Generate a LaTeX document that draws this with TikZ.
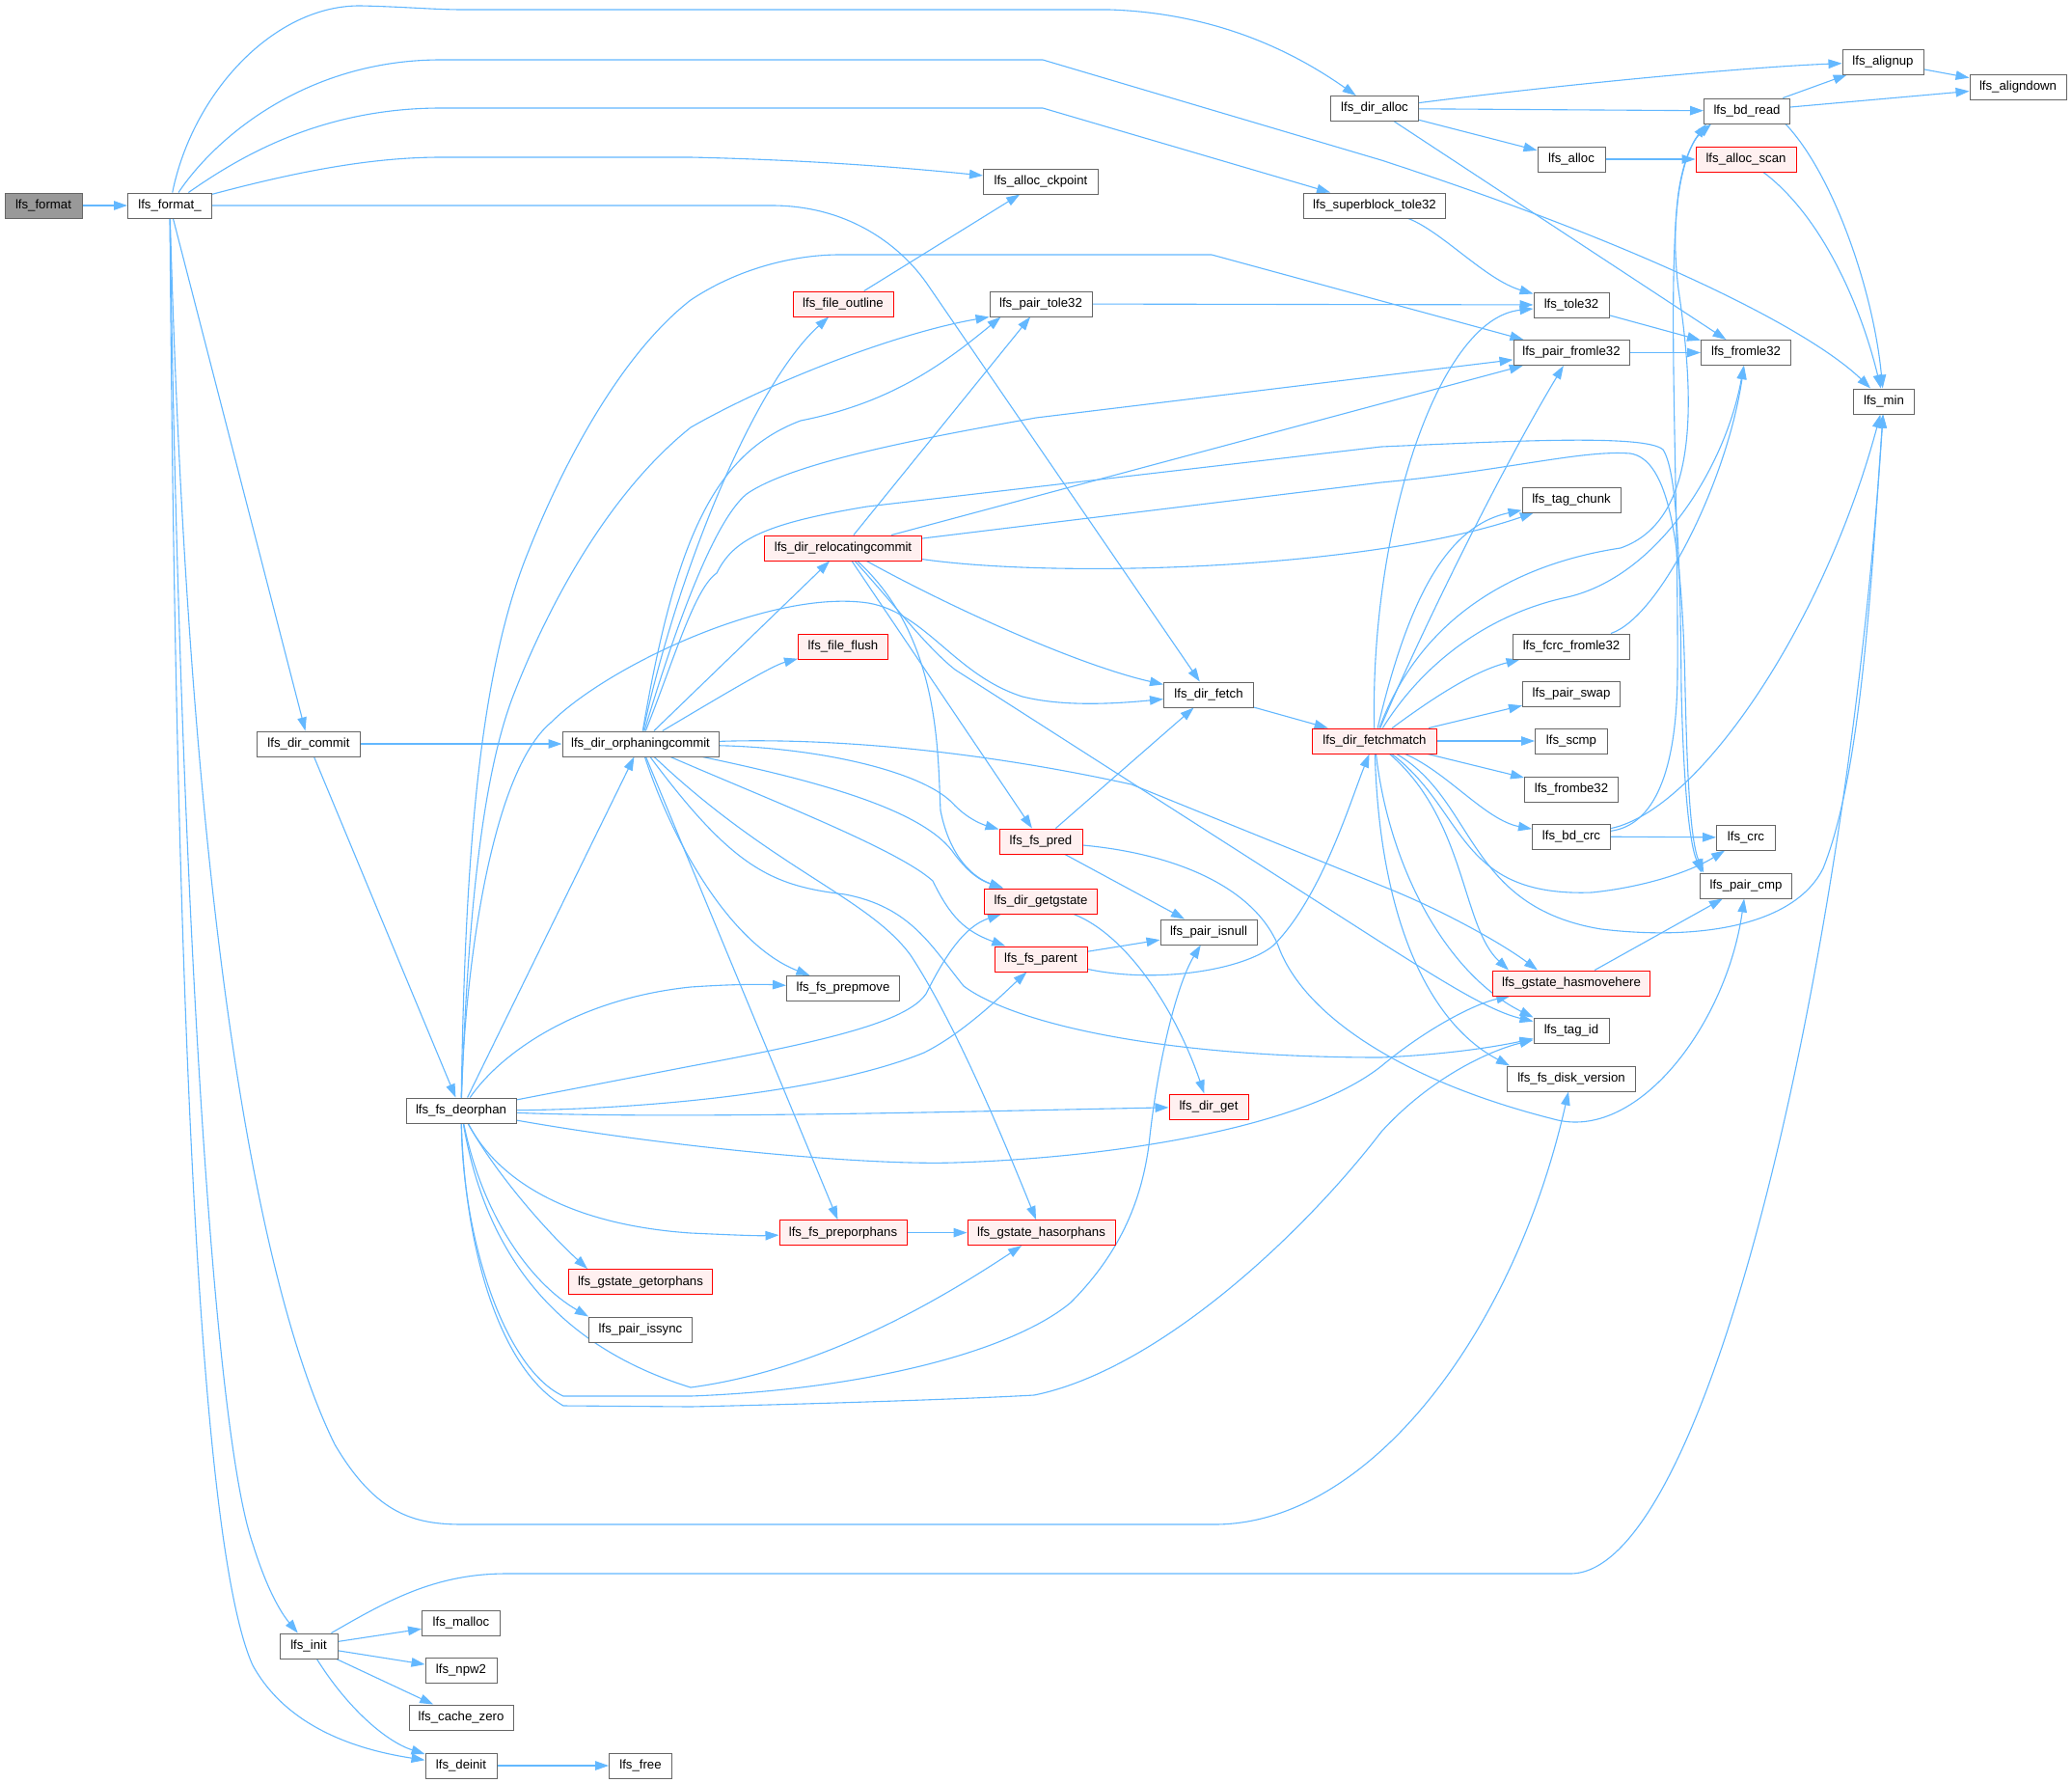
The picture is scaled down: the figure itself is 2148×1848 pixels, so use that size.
\documentclass[tikz,border=0pt]{standalone}
\usepackage{fontspec}
\setmainfont{Liberation Sans}
\usetikzlibrary{arrows.meta}
\pgfdeclarelayer{background}
\pgfsetlayers{background,main}
\definecolor{edgec}{HTML}{63B8FF}
\definecolor{bordg}{HTML}{666666}
\definecolor{redfill}{HTML}{FFF0F0}
\definecolor{rootfill}{HTML}{999999}
\begin{document}
\begin{tikzpicture}[x=1pt,y=-1pt,
  fn/.style={draw=bordg, fill=white, line width=1pt, minimum height=26pt, inner sep=0pt, font=\fontsize{13.2pt}{15pt}\selectfont},
  rn/.style={fn, draw=red, fill=redfill},
  root/.style={fn, fill=rootfill},
  ed/.style={draw=edgec, line width=1.1pt, -{Triangle[length=14pt,width=9.5pt]}}]
\useasboundingbox (0,0) rectangle (2148,1848);
% nodes
\node[root, minimum width=80pt] (fmt) at (45,213) {lfs\_format};
\node[fn, minimum width=87pt] (fmtu) at (176,213) {lfs\_format\_};
\node[fn, minimum width=107pt] (dcommit) at (320,771) {lfs\_dir\_commit};
\node[fn, minimum width=60pt] (init) at (320,1706) {lfs\_init};
\node[fn, minimum width=114pt] (deo) at (478,1151) {lfs\_fs\_deorphan};
\node[fn, minimum width=81pt] (malloc) at (478,1682) {lfs\_malloc};
\node[fn, minimum width=74pt] (npw2) at (478,1731) {lfs\_npw2};
\node[fn, minimum width=108pt] (czero) at (478,1780) {lfs\_cache\_zero};
\node[fn, minimum width=74pt] (deinit) at (478,1830) {lfs\_deinit};
\node[fn, minimum width=162pt] (orph) at (664,771) {lfs\_dir\_orphaningcommit};
\node[rn, minimum width=149pt] (getorph) at (664,1328.6) {lfs\_gstate\_getorphans};
\node[fn, minimum width=107pt] (issync) at (664,1378) {lfs\_pair\_issync};
\node[fn, minimum width=65pt] (free) at (664,1830) {lfs\_free};
\node[rn, minimum width=104pt] (outline) at (874,315) {lfs\_file\_outline};
\node[rn, minimum width=163pt] (reloc) at (874,568) {lfs\_dir\_relocatingcommit};
\node[rn, minimum width=93pt] (flush) at (874,670) {lfs\_file\_flush};
\node[fn, minimum width=117pt] (prepmove) at (874,1024.5) {lfs\_fs\_prepmove};
\node[rn, minimum width=132pt] (prepo) at (874,1277.6) {lfs\_fs\_preporphans};
\node[fn, minimum width=119pt] (ckpt) at (1079,188) {lfs\_alloc\_ckpoint};
\node[fn, minimum width=106pt] (ptole) at (1079,315) {lfs\_pair\_tole32};
\node[rn, minimum width=86pt] (pred) at (1079,872) {lfs\_fs\_pred};
\node[rn, minimum width=117pt] (getg) at (1079,934) {lfs\_dir\_getgstate};
\node[rn, minimum width=96pt] (parent) at (1079,994) {lfs\_fs\_parent};
\node[rn, minimum width=153pt] (hasorph) at (1079.5,1277.6) {lfs\_gstate\_hasorphans};
\node[fn, minimum width=93pt] (dfetch) at (1253,720) {lfs\_dir\_fetch};
\node[fn, minimum width=100pt] (isnull) at (1253,966) {lfs\_pair\_isnull};
\node[rn, minimum width=82pt] (dget) at (1253,1147) {lfs\_dir\_get};
\node[fn, minimum width=91pt] (diralloc) at (1425,112.5) {lfs\_dir\_alloc};
\node[fn, minimum width=147pt] (sbtole) at (1425,213) {lfs\_superblock\_tole32};
\node[rn, minimum width=129pt] (fmatch) at (1425,768) {lfs\_dir\_fetchmatch};
\node[fn, minimum width=70pt] (alloc) at (1629,165) {lfs\_alloc};
\node[fn, minimum width=78pt] (tole) at (1629,316) {lfs\_tole32};
\node[fn, minimum width=120pt] (pfromle) at (1629,365.5) {lfs\_pair\_fromle32};
\node[fn, minimum width=102pt] (tchunk) at (1629,518) {lfs\_tag\_chunk};
\node[fn, minimum width=121pt] (fcrc) at (1629,670) {lfs\_fcrc\_fromle32};
\node[fn, minimum width=101pt] (pswap) at (1629,719) {lfs\_pair\_swap};
\node[fn, minimum width=75pt] (scmp) at (1629,768) {lfs\_scmp};
\node[fn, minimum width=97pt] (frombe) at (1629,818) {lfs\_frombe32};
\node[fn, minimum width=81pt] (bdcrc) at (1629,867) {lfs\_bd\_crc};
\node[rn, minimum width=163pt] (hasmove) at (1629,1019) {lfs\_gstate\_hasmovehere};
\node[fn, minimum width=78pt] (tagid) at (1629,1068) {lfs\_tag\_id};
\node[fn, minimum width=133pt] (diskv) at (1629,1118) {lfs\_fs\_disk\_version};
\node[fn, minimum width=89pt] (bdread) at (1811,115) {lfs\_bd\_read};
\node[rn, minimum width=104pt] (ascan) at (1810,165) {lfs\_alloc\_scan};
\node[fn, minimum width=93pt] (fromle) at (1810,365.5) {lfs\_fromle32};
\node[fn, minimum width=61pt] (crc) at (1810,868) {lfs\_crc};
\node[fn, minimum width=95pt] (pcmp) at (1810,918) {lfs\_pair\_cmp};
\node[fn, minimum width=84pt] (alignup) at (1952,64) {lfs\_alignup};
\node[fn, minimum width=63pt] (lmin) at (1953,416) {lfs\_min};
\node[fn, minimum width=100pt] (aligndown) at (2092,90) {lfs\_aligndown};
\begin{pgfonlayer}{background}
\fill[white] (0,0) rectangle (2148,1848);
\draw[ed] (fmt) -- (fmtu);
% lfs_format_
\draw[ed] (fmtu) .. controls (200,95) and (285,5) .. (374,6) .. controls (420,7) and (450,10) .. (480,10) -- (1150,10) .. controls (1270,14) and (1350,60) .. (diralloc);
\draw[ed] (fmtu) .. controls (225,140) and (320,62) .. (457,62) -- (1081,62) -- (1432,166) .. controls (1720,260) and (1880,345) .. (lmin);
\draw[ed] (fmtu) .. controls (245,165) and (330,112) .. (457,112) -- (1081,112) -- (sbtole);
\draw[ed] (fmtu) .. controls (300,180) and (380,163) .. (457,163) -- (716,163) .. controls (850,166) and (950,175) .. (ckpt);
\draw[ed] (fmtu) -- (800,213) .. controls (880,213) and (935,255) .. (963,297) -- (dfetch);
\draw[ed] (fmtu) -- (dcommit);
\draw[ed] (fmtu) .. controls (186,900) and (220,1480) .. (262,1600) .. controls (276,1645) and (290,1670) .. (init);
\draw[ed] (fmtu) .. controls (182,1000) and (205,1600) .. (262,1726) .. controls (300,1795) and (380,1815) .. (deinit);
\draw[ed] (fmtu) .. controls (195,900) and (260,1320) .. (347,1497) .. controls (390,1570) and (430,1580) .. (480,1580) -- (1259,1580) .. controls (1420,1580) and (1570,1380) .. (diskv);
% dir_alloc, bd_read etc
\draw[ed] (diralloc) .. controls (1600,90) and (1800,70) .. (alignup);
\draw[ed] (diralloc) -- (bdread);
\draw[ed] (diralloc) -- (alloc);
\draw[ed] (diralloc) -- (fromle);
\draw[ed] (bdread) -- (alignup);
\draw[ed] (bdread) -- (aligndown);
\draw[ed] ([xshift=-5pt]bdread.south east) .. controls (1900,180) and (1942,300) .. (lmin);
\draw[ed] (alignup) -- (aligndown);
\draw[ed] (alloc) -- (ascan);
\draw[ed] (ascan) .. controls (1890,225) and (1930,320) .. (lmin);
\draw[ed] (sbtole) .. controls (1495,240) and (1540,290) .. (tole);
\draw[ed] (ptole) -- (tole);
\draw[ed] (tole) -- (fromle);
\draw[ed] (pfromle) -- (fromle);
\draw[ed] (outline) -- (ckpt);
% relocatingcommit
\draw[ed] (reloc) -- (ptole);
\draw[ed] (reloc) -- (pfromle);
\draw[ed] (reloc) .. controls (1100,600) and (1420,590) .. (tchunk);
\draw[ed] (reloc) -- (1432,500) .. controls (1560,488) and (1640,466) .. (1690,470) .. controls (1730,476) and (1744,560) .. (1747,716) .. controls (1749,800) and (1752,870) .. ([xshift=4pt]pcmp.north west);
\draw[ed] (reloc) .. controls (990,632) and (1120,690) .. (dfetch);
\draw[ed] (reloc) -- (pred);
\draw[ed] (reloc) .. controls (975,660) and (972,780) .. (975,840) .. controls (985,890) and (1010,910) .. (getg);
\draw[ed] (reloc) .. controls (930,630) and (960,670) .. (990,694) -- (1432,977) .. controls (1500,1020) and (1545,1048) .. (tagid);
% orphaningcommit
\draw[ed] (orph) .. controls (700,600) and (780,400) .. (outline);
\draw[ed] (orph) .. controls (700,560) and (740,470) .. (830,436) .. controls (921,418) and (975,380) .. ([xshift=12pt]ptole.south west);
\draw[ed] (orph) .. controls (700,650) and (740,540) .. (774,512) .. controls (820,480) and (950,455) .. (1074,433) -- (pfromle);
\draw[ed] (orph) .. controls (700,680) and (720,610) .. (743,594) .. controls (760,560) and (790,543) .. (899,525) -- (1432,463) .. controls (1569,457) and (1706,450) .. (1724,466) .. controls (1740,490) and (1742,600) .. (1743,716) .. controls (1745,800) and (1750,870) .. ([xshift=2pt]pcmp.north west);
\draw[ed] (orph) -- (reloc);
\draw[ed] (orph) .. controls (750,720) and (800,690) .. (flush);
\draw[ed] (orph) .. controls (850,775) and (960,800) .. (990,835) .. controls (1005,850) and (1020,855) .. (pred);
\draw[ed] (orph) .. controls (850,810) and (960,840) .. (990,886) .. controls (1005,905) and (1015,912) .. (getg);
\draw[ed] (orph) .. controls (800,830) and (930,880) .. (967,913) .. controls (985,950) and (1000,965) .. (parent);
\draw[ed] (orph) .. controls (700,880) and (760,980) .. (prepmove);
\draw[ed] (orph) -- (prepo);
\draw[ed] (orph) .. controls (800,900) and (900,930) .. (944,990) .. controls (990,1060) and (1040,1180) .. (hasorph);
\draw[ed] (orph) .. controls (850,765) and (1000,775) .. (1173,813) -- (1432,918) .. controls (1500,945) and (1560,980) .. ([xshift=-35pt]hasmove.north);
\draw[ed] (orph) .. controls (760,900) and (800,918) .. (876,927) .. controls (944,940) and (965,980) .. (999,1022) .. controls (1050,1060) and (1200,1096) .. (1432,1096) .. controls (1500,1093) and (1550,1085) .. (tagid);
% dir_commit
\draw[ed] (dcommit) -- (orph);
\draw[ed] (dcommit) -- (deo);
% deorphan
\draw[ed] (deo) -- (orph);
\draw[ed] (deo) .. controls (485,950) and (500,800) .. (534,716) .. controls (560,650) and (620,520) .. (716,443) .. controls (800,395) and (930,345) .. (ptole.south west);
\draw[ed] (deo) .. controls (482,900) and (495,700) .. (548,571) .. controls (580,490) and (640,370) .. (716,311) .. controls (770,275) and (830,264) .. (870,264) -- (1256,264) -- (pfromle);
\draw[ed] (deo) .. controls (482,1000) and (510,800) .. (571,749) .. controls (630,690) and (800,610) .. (900,625) .. controls (960,635) and (990,700) .. (1060,722) .. controls (1100,732) and (1150,730) .. (dfetch);
\draw[ed] (deo) .. controls (520,1090) and (600,1035) .. (716,1023) .. controls (760,1020) and (790,1020) .. (prepmove);
\draw[ed] (deo) -- (716,1105) .. controls (850,1080) and (940,1060) .. (960,1030) .. controls (980,990) and (1000,960) .. (getg);
\draw[ed] (deo) .. controls (650,1150) and (850,1135) .. (958,1091) .. controls (1000,1070) and (1040,1030) .. (parent);
\draw[ed] (deo) .. controls (700,1160) and (1000,1152) .. (dget);
\draw[ed] (deo) .. controls (700,1190) and (900,1208) .. (990,1205) .. controls (1150,1200) and (1350,1170) .. (1432,1105) .. controls (1480,1065) and (1530,1040) .. (hasmove);
\draw[ed] (deo) .. controls (482,1300) and (520,1420) .. (584,1457) -- (716,1458) .. controls (850,1455) and (1000,1450) .. (1072,1446) .. controls (1200,1420) and (1350,1280) .. (1432,1173) .. controls (1480,1120) and (1540,1090) .. (tagid);
\draw[ed] (deo) .. controls (480,1290) and (525,1420) .. (584,1447) -- (716,1447) .. controls (900,1440) and (1050,1400) .. (1110,1350) .. controls (1170,1290) and (1185,1230) .. (1191,1187) .. controls (1200,1100) and (1220,1020) .. (isnull);
\draw[ed] (deo) .. controls (500,1280) and (560,1390) .. (716,1438) .. controls (850,1420) and (970,1350) .. (hasorph);
\draw[ed] (deo) .. controls (510,1210) and (560,1270) .. ([xshift=-55pt]getorph.north);
\draw[ed] (deo) .. controls (500,1260) and (550,1330) .. (issync.north west);
\draw[ed] (deo) .. controls (520,1230) and (600,1270) .. (716,1278) .. controls (760,1280) and (785,1281) .. (prepo);
% init
\draw[ed] (init) .. controls (400,1660) and (450,1631) .. (525,1631) -- (1628,1631) .. controls (1770,1631) and (1915,1000) .. (lmin);
\draw[ed] (init) -- (malloc);
\draw[ed] (init) -- (npw2);
\draw[ed] (init) -- (czero);
\draw[ed] (init) .. controls (360,1770) and (400,1805) .. (deinit);
\draw[ed] (deinit) -- (free);
% misc
\draw[ed] (dfetch) -- (fmatch);
\draw[ed] (pred) -- (dfetch);
\draw[ed] (pred) -- (isnull);
\draw[ed] (pred) .. controls (1220,885) and (1300,920) .. (1325,980) .. controls (1350,1050) and (1450,1120) .. (1615,1161) .. controls (1700,1180) and (1790,1060) .. (pcmp);
\draw[ed] (parent) -- (isnull);
\draw[ed] (parent) .. controls (1200,1020) and (1290,1005) .. (1320,980) .. controls (1370,930) and (1400,830) .. (fmatch);
\draw[ed] (getg) .. controls (1170,970) and (1220,1050) .. (dget);
\draw[ed] (prepo) -- (hasorph);
\draw[ed] (hasmove) -- (pcmp);
% fetchmatch
\draw[ed] (fmatch) .. controls (1420,550) and (1490,330) .. (tole);
\draw[ed] (fmatch) .. controls (1480,640) and (1560,480) .. (pfromle);
\draw[ed] (fmatch) .. controls (1460,620) and (1500,545) .. (tchunk);
\draw[ed] (fmatch) .. controls (1480,620) and (1600,580) .. (1680,568) .. controls (1760,540) and (1758,420) .. (1740,300) .. controls (1730,220) and (1745,160) .. ([xshift=3pt]bdread.south west);
\draw[ed] (fmatch) .. controls (1480,680) and (1550,636) .. (1620,620) .. controls (1720,600) and (1790,480) .. (fromle);
\draw[ed] (fmatch) .. controls (1490,720) and (1530,695) .. (fcrc);
\draw[ed] (fmatch) -- (pswap);
\draw[ed] (fmatch) -- (scmp);
\draw[ed] (fmatch) -- (frombe);
\draw[ed] (fmatch) .. controls (1500,800) and (1540,850) .. (bdcrc);
\draw[ed] (fmatch) .. controls (1520,840) and (1510,930) .. (1650,925) .. controls (1700,920) and (1750,905) .. (crc);
\draw[ed] (fmatch) .. controls (1530,830) and (1520,940) .. (1660,963) .. controls (1760,975) and (1860,960) .. (1890,900) .. controls (1930,800) and (1940,600) .. (lmin);
\draw[ed] (fmatch) .. controls (1520,850) and (1515,960) .. ([xshift=17pt]hasmove.north west);
\draw[ed] (fmatch) .. controls (1440,900) and (1500,1010) .. (tagid.north west);
\draw[ed] (fmatch) .. controls (1430,950) and (1480,1060) .. ([xshift=3pt]diskv.north west);
\draw[ed] (fcrc) .. controls (1720,640) and (1790,500) .. (fromle);
\draw[ed] (bdcrc) -- (crc);
\draw[ed] (bdcrc) .. controls (1715,855) and (1738,800) .. (1739,700) .. controls (1740,500) and (1728,300) .. (1740,200) .. controls (1745,165) and (1755,145) .. ([xshift=8pt]bdread.south west);
\draw[ed] (bdcrc) .. controls (1760,840) and (1890,650) .. (lmin);
\end{pgfonlayer}
\end{tikzpicture}
\end{document}
